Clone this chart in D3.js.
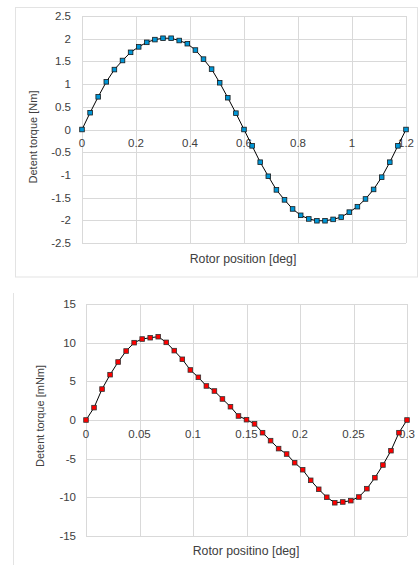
<!DOCTYPE html>
<html>
<head>
<meta charset="utf-8">
<script src="https://cdn.jsdelivr.net/npm/d3@7"></script>
<style>
  body { margin: 0; background: #fff; }
  svg { display: block; font-family: "Liberation Sans", Arial, sans-serif; }
</style>
</head>
<body>
<div id="chart"></div>
<script>
const pos1 = [0, 0.03, 0.06, 0.09, 0.12, 0.15, 0.18, 0.21, 0.24, 0.27, 0.3, 0.33, 0.36, 0.39,
  0.42, 0.45, 0.48, 0.51, 0.54, 0.57, 0.6, 0.63, 0.66, 0.69, 0.72, 0.75, 0.78, 0.81, 0.84,
  0.87, 0.9, 0.93, 0.96, 0.99, 1.02, 1.05, 1.08, 1.11, 1.14, 1.17, 1.2];
const torque1 = [0, 0.37, 0.72, 1.05, 1.32, 1.52, 1.70, 1.82, 1.92, 1.98, 2.01, 2.01, 1.96, 1.89,
  1.75, 1.55, 1.33, 1.03, 0.70, 0.36, 0.0, -0.36, -0.72, -1.03, -1.33, -1.55, -1.75, -1.89, -1.97,
  -2.01, -2.01, -1.98, -1.93, -1.82, -1.70, -1.53, -1.32, -1.05, -0.72, -0.36, 0];
const xTicks1 = [0, 0.2, 0.4, 0.6, 0.8, 1, 1.2];
const yTicks1 = [-2.5, -2, -1.5, -1, -0.5, 0, 0.5, 1, 1.5, 2, 2.5];

const pos2 = [0, 0.0075, 0.015, 0.0225, 0.03, 0.0375, 0.045, 0.0525, 0.06, 0.0675, 0.075, 0.0825,
  0.09, 0.0975, 0.105, 0.1125, 0.12, 0.1275, 0.135, 0.1425, 0.15, 0.1575, 0.165, 0.1725, 0.18,
  0.1875, 0.195, 0.2025, 0.21, 0.2175, 0.225, 0.2325, 0.24, 0.2475, 0.255, 0.2625, 0.27, 0.2775,
  0.285, 0.2925, 0.3];
const torque2 = [0, 1.6, 4.0, 5.86, 7.5, 8.92, 10.0, 10.47, 10.64, 10.77, 10.04, 8.97, 7.85, 6.47,
  5.52, 4.4, 3.75, 2.72, 1.72, 0.52, 0.04, -0.5, -1.64, -2.67, -3.7, -4.4, -5.52, -6.43, -7.8,
  -8.96, -9.99, -10.7, -10.6, -10.43, -9.96, -8.88, -7.46, -5.82, -3.97, -1.64, 0];
const xTicks2 = [0, 0.05, 0.1, 0.15, 0.2, 0.25, 0.3];
const yTicks2 = [-15, -10, -5, 0, 5, 10, 15];

const gridColor = "#d9d9d9";
const textColor = "#404040";

let svg = d3.select("#chart").append("svg")
  .attr("width", 419)
  .attr("height", 565);

function drawChart(cfg) {
  let x = d3.scaleLinear().domain(cfg.xDomain).range([cfg.left, cfg.right]);
  let y = d3.scaleLinear().domain(cfg.yDomain).range([cfg.bottom, cfg.top]);
  let g = svg.append("g");

  // grid
  g.selectAll(".vgrid").data(cfg.xTicks).enter().append("line")
    .attr("x1", d => Math.round(x(d)) + 0.5).attr("x2", d => Math.round(x(d)) + 0.5)
    .attr("y1", cfg.top).attr("y2", cfg.bottom)
    .attr("stroke", gridColor);
  g.selectAll(".hgrid").data(cfg.yTicks).enter().append("line")
    .attr("x1", cfg.left).attr("x2", cfg.right)
    .attr("y1", d => Math.round(y(d)) + 0.5).attr("y2", d => Math.round(y(d)) + 0.5)
    .attr("stroke", gridColor);

  // tick labels
  g.selectAll(".ylab").data(cfg.yTicks).enter().append("text")
    .attr("x", cfg.yLabelX)
    .attr("y", d => y(d) + 4)
    .attr("text-anchor", "end")
    .attr("fill", textColor)
    .style("font-size", "11.5px")
    .text(d => d);
  g.selectAll(".xlab").data(cfg.xTicks).enter().append("text")
    .attr("x", d => x(d))
    .attr("y", y(0) + 17.5)
    .attr("text-anchor", "middle")
    .attr("fill", textColor)
    .style("font-size", "11.5px")
    .text(d => d);

  // titles
  g.append("text")
    .attr("transform", `translate(${cfg.yTitleX},${cfg.yTitleY}) rotate(-90)`)
    .attr("text-anchor", "middle")
    .attr("fill", textColor)
    .style("font-size", "11px")
    .text(cfg.yTitle);
  g.append("text")
    .attr("x", cfg.xTitleX)
    .attr("y", cfg.xTitleY)
    .attr("text-anchor", "middle")
    .attr("fill", textColor)
    .style("font-size", "12.3px")
    .text(cfg.xTitle);

  // series
  let pts = cfg.xs.map((d, i) => [d, cfg.ys[i]]);
  g.append("path")
    .datum(pts)
    .attr("fill", "none")
    .attr("stroke", "#000")
    .attr("stroke-width", 1)
    .attr("d", d3.line().x(d => x(d[0])).y(d => y(d[1])));
  g.selectAll(".mk").data(pts).enter().append("rect")
    .attr("x", d => x(d[0]) - 2.3)
    .attr("y", d => y(d[1]) - 2.3)
    .attr("width", 4.6)
    .attr("height", 4.6)
    .attr("fill", cfg.markerFill)
    .attr("stroke", cfg.markerStroke)
    .attr("stroke-width", 0.8);
}

// outer frames
svg.append("rect")
  .attr("x", 15.5).attr("y", 7.5)
  .attr("width", 402).attr("height", 269.5)
  .attr("fill", "none")
  .attr("stroke", "#e3e3e3");
svg.append("line")
  .attr("x1", 13.5).attr("x2", 13.5)
  .attr("y1", 293).attr("y2", 565)
  .attr("stroke", "#e3e3e3");

drawChart({
  xs: pos1, ys: torque1, xTicks: xTicks1, yTicks: yTicks1,
  xDomain: [0, 1.2], yDomain: [-2.5, 2.5],
  left: 82, right: 406, top: 16, bottom: 243,
  yLabelX: 71,
  yTitle: "Detent torque [Nm]", yTitleX: 37, yTitleY: 137,
  xTitle: "Rotor position [deg]", xTitleX: 243, xTitleY: 263,
  markerFill: "#0096d6", markerStroke: "#1a1a1a"
});

drawChart({
  xs: pos2, ys: torque2, xTicks: xTicks2, yTicks: yTicks2,
  xDomain: [0, 0.3], yDomain: [-15, 15],
  left: 86, right: 407, top: 304, bottom: 536,
  yLabelX: 76,
  yTitle: "Detent torque [mNm]", yTitleX: 44, yTitleY: 416,
  xTitle: "Rotor positino [deg]", xTitleX: 246, xTitleY: 555,
  markerFill: "#ff0000", markerStroke: "#333"
});
</script>
</body>
</html>
